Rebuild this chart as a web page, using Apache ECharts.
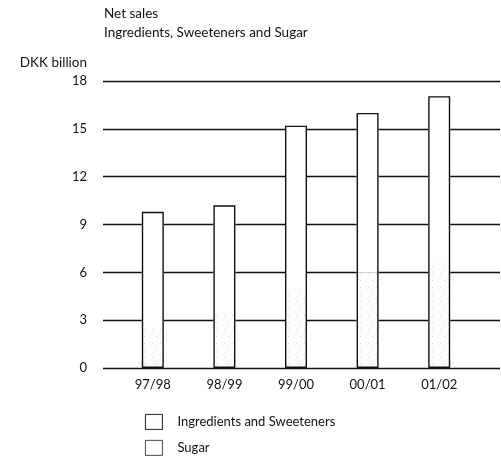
<!DOCTYPE html>
<html>
<head>
<meta charset="utf-8">
<script src="https://cdn.jsdelivr.net/npm/echarts@6/dist/echarts.min.js"></script>
<style>
  html, body { margin: 0; padding: 0; background: #fff; }
  #chart { width: 501px; height: 465px; }
</style>
</head>
<body>
<div id="chart"></div>
<script>
// net sales, DKK billion
var years = ['97/98', '98/99', '99/00', '00/01', '01/02'];
var ingredients = [2.5, 3.5, 5.0, 6.0, 6.6];
var sugar = [7.3, 6.7, 10.2, 10.0, 10.45];
var yTicks = [0, 3, 6, 9, 12, 15, 18];

var totals = ingredients.map(function (v, i) { return +(v + sugar[i]).toFixed(2); });
var font = 'Lato, "DejaVu Sans", sans-serif';
var ink = '#111';

var chart = echarts.init(document.getElementById('chart'));

var stipple = {
  symbol: 'rect',
  symbolSize: 1,
  color: 'rgba(0,0,0,0.16)',
  dashArrayX: [[1, 7], [1, 11]],
  dashArrayY: [1, 6],
  rotation: 0
};

chart.setOption({
  animation: false,
  backgroundColor: '#fff',
  textStyle: { fontFamily: font, color: ink },
  title: {
    text: 'Net sales\nIngredients, Sweeteners and Sugar',
    left: 104,
    top: 4,
    padding: 0,
    textStyle: { fontFamily: font, fontSize: 13.5, fontWeight: 'normal', color: ink, lineHeight: 19 }
  },
  legend: {
    orient: 'vertical',
    left: 145,
    top: 414,
    padding: 0,
    icon: 'rect',
    itemWidth: 17,
    itemHeight: 15,
    itemGap: 10,
    textStyle: { fontFamily: font, fontSize: 13, color: ink, padding: [0, 0, 0, 10] },
    data: [
      { name: 'Ingredients and Sweeteners', itemStyle: { color: '#fff', borderColor: '#333', borderWidth: 0.9 } },
      { name: 'Sugar', itemStyle: { color: '#fff', borderColor: '#333', borderWidth: 0.9 } }
    ]
  },
  grid: [
    { left: 103, right: 1, top: 81, bottom: 97 },
    { left: 117, right: 26, top: 81, bottom: 97 }
  ],
  xAxis: [
    { gridIndex: 0, type: 'category', data: years, show: false },
    {
      gridIndex: 1, type: 'category', data: years,
      axisLine: { show: false }, axisTick: { show: false },
      axisLabel: { fontFamily: font, fontSize: 13, color: ink, margin: 10 }
    }
  ],
  yAxis: [
    {
      gridIndex: 0, type: 'value', min: 0, max: 18, interval: 3,
      name: 'DKK billion', nameLocation: 'end', nameGap: 11,
      nameTextStyle: { fontFamily: font, fontSize: 13.5, color: ink, align: 'right', padding: [0, 16, 0, 0] },
      axisLine: { show: false }, axisTick: { show: false },
      axisLabel: {
        fontFamily: font, fontSize: 13, color: ink, margin: 16,
        formatter: function (v) { return yTicks.indexOf(v) >= 0 ? String(v) : ''; }
      },
      splitLine: { show: true, lineStyle: { color: ink, width: 1.3 } }
    },
    {
      gridIndex: 1, type: 'value', min: 0, max: 18, interval: 3, show: false,
      splitLine: { show: false }
    }
  ],
  series: [
    {
      name: 'Ingredients and Sweeteners', type: 'bar', stack: 'sales',
      xAxisIndex: 1, yAxisIndex: 1, barWidth: 22,
      itemStyle: { color: '#fcfcfc', decal: stipple },
      data: ingredients
    },
    {
      name: 'Sugar', type: 'bar', stack: 'sales',
      xAxisIndex: 1, yAxisIndex: 1, barWidth: 22,
      itemStyle: { color: '#fff' },
      data: sugar
    },
    {
      name: 'outline', type: 'bar',
      xAxisIndex: 1, yAxisIndex: 1, barWidth: 22, barGap: '-100%',
      itemStyle: { color: 'rgba(0,0,0,0)', borderColor: ink, borderWidth: 1.4 },
      z: 5, silent: true,
      data: totals
    }
  ]
});
</script>
</body>
</html>
